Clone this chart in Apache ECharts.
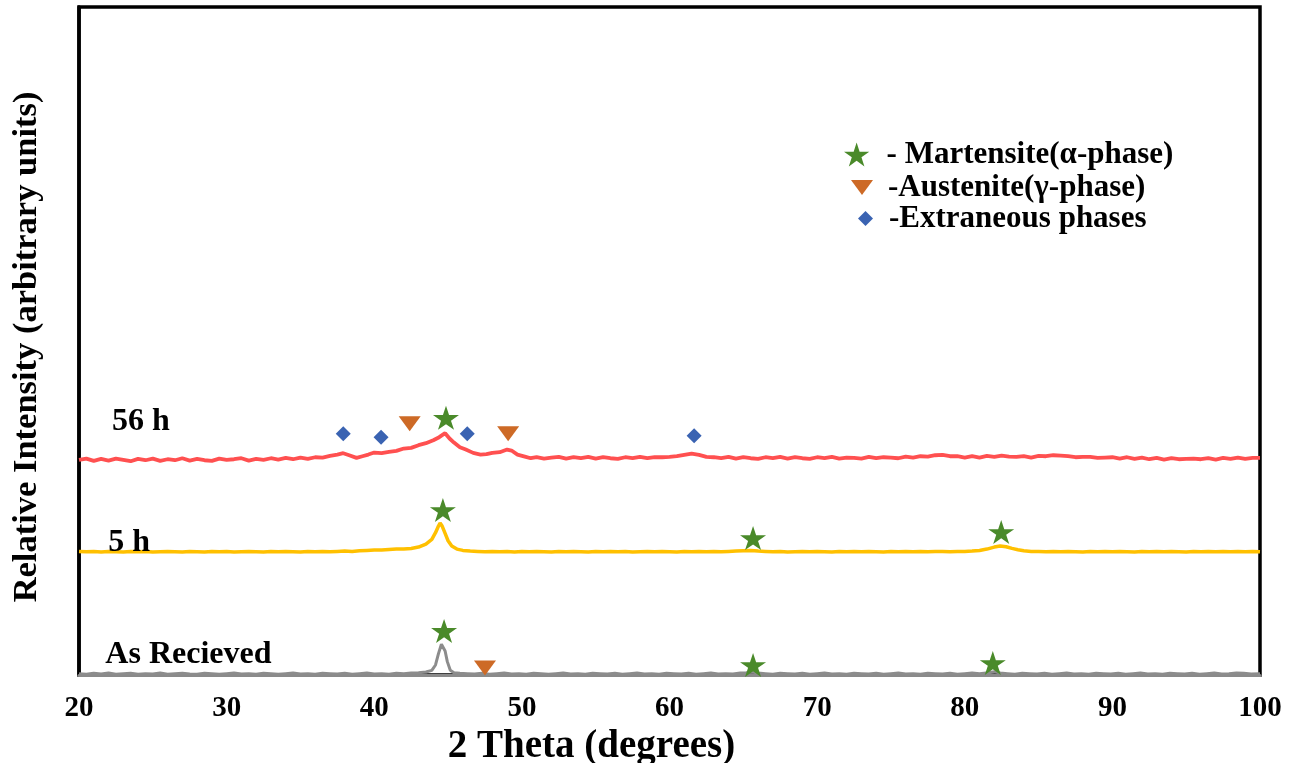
<!DOCTYPE html>
<html>
<head>
<meta charset="utf-8">
<script src="https://cdn.jsdelivr.net/npm/echarts@6/dist/echarts.min.js"></script>
<style>
html,body{margin:0;padding:0;background:#fff;}
#chart{width:1299px;height:763px;}
</style>
</head>
<body>
<div id="chart"></div>
<script>
// ---- Data (2θ in degrees, relative intensity in arbitrary units) ----
const asReceived = [
[20,0.2],[20.5,0.1],[21,0.25],[21.5,0.15],[22,0.3],[22.5,0.1],[23,0.2],[23.5,0.25],[24,0.1],[24.5,0.2],
[25,0.15],[25.5,0.3],[26,0.1],[26.5,0.2],[27,0.25],[27.5,0.15],[28,0.1],[28.5,0.25],[29,0.2],[29.5,0.1],
[30,0.2],[30.5,0.3],[31,0.15],[31.5,0.2],[32,0.1],[32.5,0.25],[33,0.2],[33.5,0.1],[34,0.2],[34.5,0.3],
[35,0.15],[35.5,0.2],[36,0.1],[36.5,0.25],[37,0.2],[37.5,0.15],[38,0.25],[38.5,0.1],[39,0.2],[39.5,0.3],
[40,0.15],[40.5,0.2],[41,0.1],[41.5,0.25],[42,0.2],[42.5,0.3],[43,0.35],[43.5,0.45],[43.9,0.7],[44.15,1.5],
[44.35,3.2],[44.55,4.6],[44.65,4.75],[44.8,3.6],[44.95,2.0],[45.15,0.7],[45.4,0.35],[45.8,0.25],[46.3,0.2],[46.8,0.15],
[47.3,0.25],[47.8,0.1],[48.3,0.2],[48.8,0.3],[49.3,0.15],[49.8,0.2],[50.3,0.1],[50.8,0.25],[51.3,0.2],[51.8,0.1],
[52.3,0.2],[52.8,0.3],[53.3,0.15],[53.8,0.2],[54.3,0.1],[54.8,0.25],[55.3,0.2],[55.8,0.15],[56.3,0.25],[56.8,0.1],
[57.3,0.2],[57.8,0.3],[58.3,0.15],[58.8,0.2],[59.3,0.1],[59.8,0.25],[60.3,0.2],[60.8,0.15],[61.3,0.25],[61.8,0.1],
[62.3,0.2],[62.8,0.3],[63.3,0.15],[63.8,0.2],[64.3,0.15],[64.8,0.3],[65.2,0.35],[65.6,0.45],[66,0.3],[66.5,0.2],
[67,0.1],[67.5,0.25],[68,0.2],[68.5,0.15],[69,0.25],[69.5,0.1],[70,0.2],[70.5,0.3],[71,0.15],[71.5,0.2],
[72,0.1],[72.5,0.25],[73,0.2],[73.5,0.15],[74,0.25],[74.5,0.1],[75,0.2],[75.5,0.3],[76,0.15],[76.5,0.2],
[77,0.1],[77.5,0.25],[78,0.2],[78.5,0.15],[79,0.25],[79.5,0.1],[80,0.2],[80.5,0.3],[81,0.2],[81.6,0.35],
[82,0.5],[82.4,0.3],[82.9,0.2],[83.4,0.1],[83.9,0.25],[84.4,0.2],[84.9,0.15],[85.4,0.25],[85.9,0.1],[86.4,0.2],
[86.9,0.3],[87.4,0.15],[87.9,0.2],[88.4,0.1],[88.9,0.25],[89.4,0.2],[89.9,0.15],[90.4,0.25],[90.9,0.1],[91.4,0.2],
[91.9,0.3],[92.4,0.15],[92.9,0.2],[93.4,0.1],[93.9,0.25],[94.4,0.2],[94.9,0.15],[95.4,0.25],[95.9,0.1],[96.4,0.2],
[96.9,0.3],[97.4,0.15],[97.9,0.2],[98.4,0.3],[98.9,0.25],[99.4,0.15],[100,0.2]
];

const fiveHours = [
[20,18.5],[20.5,18.45],[21,18.5],[21.5,18.4],[22,18.5],[22.5,18.45],[23,18.4],[23.5,18.5],[24,18.45],[24.5,18.5],
[25,18.4],[25.5,18.45],[26,18.5],[26.5,18.45],[27,18.4],[27.5,18.5],[28,18.45],[28.5,18.4],[29,18.5],[29.5,18.45],
[30,18.5],[30.5,18.4],[31,18.45],[31.5,18.5],[32,18.45],[32.5,18.4],[33,18.5],[33.5,18.45],[34,18.5],[34.5,18.45],
[35,18.4],[35.5,18.5],[36,18.45],[36.5,18.5],[37,18.45],[37.5,18.5],[38,18.55],[38.5,18.5],[39,18.6],[39.5,18.65],
[40,18.7],[40.5,18.7],[41,18.8],[41.5,18.85],[42,18.85],[42.5,18.95],[43,19.15],[43.5,19.6],[43.9,20.3],[44.15,21.3],
[44.35,22.3],[44.46,22.75],[44.6,22.3],[44.8,21.2],[45.0,20.1],[45.25,19.3],[45.6,18.85],[46,18.65],[46.5,18.55],[47,18.5],
[47.5,18.45],[48,18.5],[48.5,18.45],[49,18.5],[49.5,18.4],[50,18.5],[50.5,18.45],[51,18.5],[51.5,18.45],[52,18.4],
[52.5,18.5],[53,18.45],[53.5,18.5],[54,18.45],[54.5,18.4],[55,18.5],[55.5,18.45],[56,18.5],[56.5,18.45],[57,18.5],
[57.5,18.4],[58,18.45],[58.5,18.5],[59,18.45],[59.5,18.5],[60,18.45],[60.5,18.4],[61,18.5],[61.5,18.45],[62,18.5],
[62.5,18.45],[63,18.5],[63.5,18.45],[64,18.5],[64.5,18.55],[65,18.6],[65.5,18.65],[66,18.55],[66.5,18.5],[67,18.45],
[67.5,18.5],[68,18.4],[68.5,18.45],[69,18.5],[69.5,18.45],[70,18.5],[70.5,18.45],[71,18.4],[71.5,18.5],[72,18.45],
[72.5,18.5],[73,18.45],[73.5,18.5],[74,18.45],[74.5,18.4],[75,18.5],[75.5,18.45],[76,18.5],[76.5,18.45],[77,18.5],
[77.5,18.45],[78,18.5],[78.5,18.5],[79,18.45],[79.5,18.5],[80,18.5],[80.5,18.55],[81,18.65],[81.5,18.85],[82,19.15],
[82.4,19.3],[82.8,19.2],[83.2,18.95],[83.6,18.75],[84,18.6],[84.5,18.5],[85,18.5],[85.5,18.45],[86,18.5],[86.5,18.45],
[87,18.5],[87.5,18.45],[88,18.4],[88.5,18.5],[89,18.45],[89.5,18.5],[90,18.45],[90.5,18.5],[91,18.45],[91.5,18.4],
[92,18.5],[92.5,18.45],[93,18.5],[93.5,18.45],[94,18.5],[94.5,18.45],[95,18.4],[95.5,18.5],[96,18.45],[96.5,18.5],
[97,18.45],[97.5,18.5],[98,18.45],[98.5,18.5],[99,18.45],[99.5,18.5],[100,18.45]
];

const fiftySixHours = [
[20,32.2],[20.5,32.4],[21,32.05],[21.5,32.35],[22,32.1],[22.5,32.4],[23,32.2],[23.5,32.0],[24,32.35],[24.5,32.15],
[25,32.4],[25.5,32.05],[26,32.3],[26.5,32.15],[27,32.45],[27.5,32.1],[28,32.35],[28.5,32.15],[29,32.05],[29.5,32.4],
[30,32.2],[30.5,32.3],[31,32.45],[31.5,32.1],[32,32.35],[32.5,32.2],[33,32.45],[33.5,32.25],[34,32.5],[34.5,32.3],
[35,32.55],[35.5,32.35],[36,32.6],[36.5,32.55],[37,32.8],[37.5,33.0],[37.9,33.2],[38.3,32.9],[38.8,32.5],[39.2,32.75],
[39.6,33.0],[40,33.3],[40.5,33.2],[41,33.4],[41.5,33.55],[42,33.9],[42.5,34.0],[43,34.4],[43.5,34.7],[44,35.15],
[44.4,35.6],[44.8,36.2],[45.1,35.4],[45.4,34.8],[45.8,34.1],[46.2,33.75],[46.7,33.25],[47.2,33.0],[47.6,33.05],[48,33.25],
[48.5,33.35],[49,33.75],[49.3,33.6],[49.7,33.0],[50.2,32.7],[50.6,32.45],[51,32.6],[51.5,32.4],[52,32.55],[52.5,32.65],
[53,32.4],[53.5,32.6],[54,32.45],[54.5,32.65],[55,32.4],[55.5,32.6],[56,32.45],[56.5,32.35],[57,32.6],[57.5,32.45],
[58,32.65],[58.5,32.45],[59,32.6],[59.5,32.6],[60,32.65],[60.5,32.75],[61,32.95],[61.5,33.15],[62,32.95],[62.5,32.65],
[63,32.6],[63.5,32.45],[64,32.65],[64.5,32.4],[65,32.6],[65.5,32.45],[66,32.35],[66.5,32.6],[67,32.45],[67.5,32.65],
[68,32.4],[68.5,32.6],[69,32.45],[69.5,32.35],[70,32.6],[70.5,32.45],[71,32.65],[71.5,32.4],[72,32.55],[72.5,32.5],
[73,32.4],[73.5,32.65],[74,32.45],[74.5,32.6],[75,32.55],[75.5,32.45],[76,32.7],[76.5,32.55],[77,32.75],[77.5,32.7],
[78,32.9],[78.5,32.95],[79,32.75],[79.5,32.75],[80,32.55],[80.5,32.75],[81,32.55],[81.5,32.8],[82,32.65],[82.5,32.85],
[83,32.7],[83.5,32.65],[84,32.75],[84.5,32.55],[85,32.8],[85.5,32.75],[86,32.9],[86.5,32.85],[87,32.75],[87.5,32.6],
[88,32.65],[88.5,32.65],[89,32.5],[89.5,32.55],[90,32.6],[90.5,32.4],[91,32.6],[91.5,32.35],[92,32.55],[92.5,32.3],
[93,32.5],[93.5,32.25],[94,32.45],[94.5,32.3],[95,32.35],[95.5,32.4],[96,32.3],[96.5,32.45],[97,32.25],[97.5,32.5],
[98,32.35],[98.5,32.55],[99,32.35],[99.5,32.5],[100,32.5]
];

// Phase markers [2θ, height]
const martensiteMarks = [[44.86,38.5],[44.65,24.7],[65.66,20.5],[82.47,21.4],[44.73,6.6],[65.66,1.5],[81.9,1.8]];
const austeniteMarks = [[42.4,37.6],[49.07,36.1],[47.5,1.05]];
const extraneousMarks = [[37.9,36.1],[40.46,35.6],[46.3,36.1],[61.67,35.8]];

// Trace labels [2θ at text start, height at text centre]
const traceLabels = [
  {name:'56 h', value:[22.2,37.87]},
  {name:'5 h', value:[21.95,19.76]},
  {name:'As Recieved', value:[21.75,2.99]}
];

const xTicks = {min:20, max:100, interval:10};
const legendNames = ['- Martensite(α-phase)', '-Austenite(γ-phase)', '-Extraneous phases'];

// ---- Styling ----
const FONT = '"Liberation Serif", "Times New Roman", serif';
const STAR = 'path://M50,0 L61.2,34.5 L97.6,34.5 L68.2,55.9 L79.4,90.5 L50,69.1 L20.6,90.5 L31.8,55.9 L2.4,34.5 L38.8,34.5 Z';
const TRI_DOWN = 'path://M0,0 L22,0 L11,15 Z';
const C_STAR = '#4A8A2A', C_TRI = '#CD6A26', C_DIA = '#3A63B2';

const chart = echarts.init(document.getElementById('chart'));
const legendText = {color:'#000', fontFamily:FONT, fontWeight:'bold', fontSize:31, lineHeight:30};

chart.setOption({
  animation:false,
  backgroundColor:'#fff',
  grid:{left:79, right:39, top:7, bottom:88, outerBoundsMode:'none', containLabel:false,
    show:true, borderColor:'#000', borderWidth:3.5, backgroundColor:'transparent'},
  legend:[
    {data:[{name:legendNames[0], icon:STAR}], left:844, top:139, padding:0, itemWidth:26, itemHeight:24, selectedMode:false,
      textStyle:Object.assign({padding:[0,0,0,12]}, legendText)},
    {data:[{name:legendNames[1], icon:TRI_DOWN}], left:851, top:172, padding:0, itemWidth:22, itemHeight:15, selectedMode:false,
      textStyle:Object.assign({padding:[0,0,0,10]}, legendText)},
    {data:[{name:legendNames[2], icon:'diamond'}], left:858, top:203, padding:0, itemWidth:15, itemHeight:15, selectedMode:false,
      textStyle:Object.assign({padding:[0,0,0,11]}, legendText)}
  ],
  xAxis:{
    type:'value', min:xTicks.min, max:xTicks.max, interval:xTicks.interval,
    name:'2 Theta (degrees)', nameLocation:'middle', nameGap:41,
    nameTextStyle:{color:'#000', fontFamily:FONT, fontWeight:'bold', fontSize:39, lineHeight:39, padding:[0,156,0,0]},
    axisLine:{show:true, lineStyle:{color:'#8a8a8a', width:3}},
    axisTick:{show:false}, splitLine:{show:false},
    axisLabel:{color:'#000', fontFamily:FONT, fontWeight:'bold', fontSize:29, margin:19}
  },
  yAxis:{
    type:'value', min:0, max:100,
    name:'Relative Intensity (arbitrary units)', nameLocation:'middle', nameGap:34,
    nameTextStyle:{color:'#000', fontFamily:FONT, fontWeight:'bold', fontSize:34.5, padding:[0,12,0,0]},
    axisLine:{show:true, lineStyle:{color:'#000', width:3.5}},
    axisTick:{show:false}, axisLabel:{show:false}, splitLine:{show:false}
  },
  series:[
    {name:'As Recieved', type:'line', data:asReceived, showSymbol:false, lineStyle:{color:'#8c8c8c', width:3}, z:3},
    {name:'5 h', type:'line', data:fiveHours, showSymbol:false, lineStyle:{color:'#FFC000', width:3.5}, z:3},
    {name:'56 h', type:'line', data:fiftySixHours, showSymbol:false, lineStyle:{color:'#FF5050', width:3.8}, z:3},
    {name:legendNames[0], type:'scatter', data:martensiteMarks, symbol:STAR, symbolSize:[26,24], itemStyle:{color:C_STAR, opacity:1}, z:5},
    {name:legendNames[1], type:'scatter', data:austeniteMarks, symbol:TRI_DOWN, symbolSize:[22,15], itemStyle:{color:C_TRI, opacity:1}, z:5},
    {name:legendNames[2], type:'scatter', data:extraneousMarks, symbol:'diamond', symbolSize:[15,15], itemStyle:{color:C_DIA, opacity:1}, z:5},
    {name:'labels', type:'scatter', data:traceLabels, symbolSize:1, itemStyle:{color:'#fff', opacity:1}, z:6,
      label:{show:true, position:'right', distance:0, formatter:p=>p.name, color:'#000',
        fontFamily:FONT, fontWeight:'bold', fontSize:32}}
  ]
});
</script>
</body>
</html>
